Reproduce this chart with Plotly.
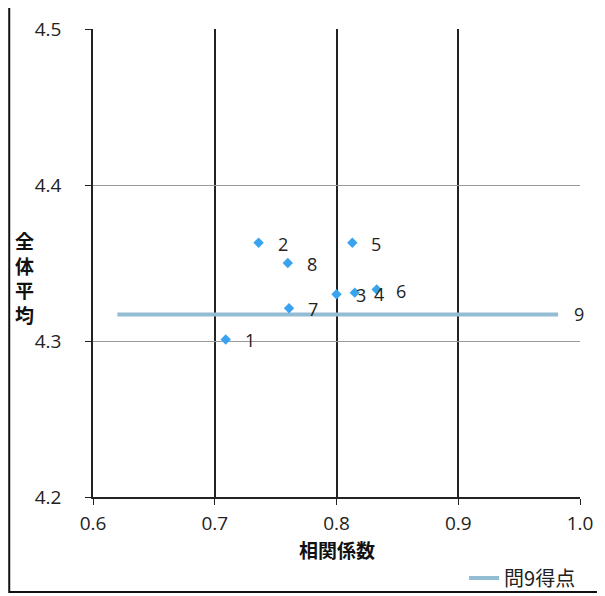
import plotly.graph_objects as go

# Data
labels = ["1", "2", "3", "4", "5", "6", "7", "8"]
corr = [0.709, 0.736, 0.800, 0.815, 0.813, 0.833, 0.761, 0.760]
avg = [4.301, 4.363, 4.330, 4.331, 4.363, 4.333, 4.321, 4.350]

line9_x = [0.62, 0.982]
line9_y = [4.317, 4.317]
line9_name = "問9得点"

xticks = [0.6, 0.7, 0.8, 0.9, 1.0]
xtick_text = ["0.6", "0.7", "0.8", "0.9", "1.0"]
yticks = [4.2, 4.3, 4.4, 4.5]
ytick_text = ["4.2", "4.3", "4.4", "4.5"]

FONT = "Open Sans, Liberation Sans, Noto Sans CJK JP"
CJK = "Noto Sans CJK JP"

fig = go.Figure()
fig.add_trace(go.Scatter(
    x=line9_x, y=line9_y, mode="lines", name=line9_name,
    line=dict(color="#93bdd3", width=4), showlegend=True))
fig.add_trace(go.Scatter(
    x=corr, y=avg, mode="markers", name="",
    marker=dict(symbol="diamond", size=8, color="#3aa3f0"),
    showlegend=False))

annotations = []
for lab, x, y in zip(labels, corr, avg):
    annotations.append(dict(x=x, y=y, text=lab, showarrow=False, xref="x", yref="y",
                            xanchor="center", xshift=24, yshift=-1,
                            font=dict(size=18, color="#222", family=FONT)))
annotations.append(dict(x=line9_x[-1], y=line9_y[-1], text="9", showarrow=False,
                        xref="x", yref="y", xanchor="center", xshift=21,
                        font=dict(size=18, color="#222", family=FONT)))
annotations.append(dict(x=-0.14, y=0.47, xref="paper", yref="paper",
                        xanchor="center", yanchor="middle",
                        text="全<br>体<br>平<br>均", showarrow=False,
                        font=dict(size=19, color="#111", family=CJK, weight="bold"),
                        align="center"))
annotations.append(dict(x=0.5, y=-0.113, xref="paper", yref="paper",
                        xanchor="center", yanchor="middle",
                        text="相関係数", showarrow=False,
                        font=dict(size=19, color="#111", family=CJK, weight="bold")))

shapes = [
    dict(type="rect", xref="paper", yref="paper", x0=-0.172, x1=1.037, y0=-0.203, y1=1.06,
         line=dict(color="#111", width=2), fillcolor="rgba(0,0,0,0)", layer="below"),
]

fig.update_layout(
    width=597, height=588,
    margin=dict(l=85, r=25, t=21, b=99, autoexpand=False),
    paper_bgcolor="white", plot_bgcolor="white",
    font=dict(family=FONT, size=18, color="#222"),
    annotations=annotations, shapes=shapes,
    legend=dict(x=0.762, y=-0.173, xanchor="left", yanchor="middle",
                font=dict(size=20, family=CJK, color="#222"),
                bgcolor="rgba(0,0,0,0)"),
    xaxis=dict(range=[0.6, 1.0], tickvals=xticks, ticktext=xtick_text,
               showgrid=True, gridcolor="#222", gridwidth=1.5,
               showline=True, linecolor="#222", linewidth=1.5,
               ticks="outside", ticklen=6, tickcolor="#222",
               ticklabelstandoff=2,
               zeroline=False, tickfont=dict(size=19), automargin=False),
    yaxis=dict(range=[4.2, 4.5], tickvals=yticks, ticktext=ytick_text,
               showgrid=True, gridcolor="#999", gridwidth=1,
               showline=True, linecolor="#222", linewidth=1.5,
               ticks="outside", ticklen=6, tickcolor="#222",
               ticklabelstandoff=20,
               zeroline=False, tickfont=dict(size=19), automargin=False),
)

fig.write_html("out.html")
